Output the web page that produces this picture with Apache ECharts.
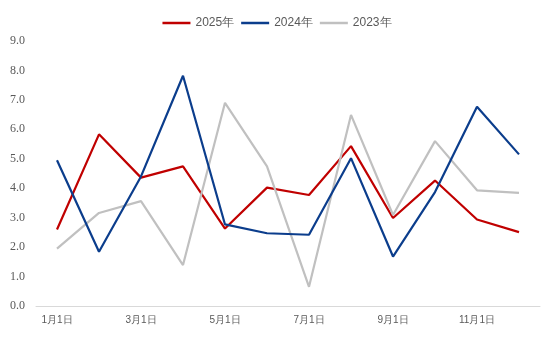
<!DOCTYPE html>
<html><head><meta charset="utf-8">
<script src="https://cdn.jsdelivr.net/npm/echarts@6/dist/echarts.min.js"></script>
<style>html,body{margin:0;padding:0;background:#fff}#c{width:554px;height:345px}</style>
</head><body><div id="c"></div>
<script>
var categories = ['1月1日','2月1日','3月1日','4月1日','5月1日','6月1日','7月1日','8月1日','9月1日','10月1日','11月1日','12月1日'];
var s2025 = [2.6, 5.83, 4.36, 4.74, 2.63, 4.02, 3.77, 5.43, 2.99, 4.26, 2.94, 2.51];
var s2024 = [4.95, 1.84, 4.4, 7.82, 2.77, 2.47, 2.42, 5.02, 1.68, 3.87, 6.77, 5.15];
var s2023 = [1.95, 3.16, 3.56, 1.39, 6.9, 4.74, 0.65, 6.49, 3.09, 5.6, 3.93, 3.84];
var names = ['2025年','2024年','2023年'];
var colors = ['#C00000','#0B3D8C','#C0C0C0'];
var yTicks = {min:0, max:9, interval:1};

var chart = echarts.init(document.getElementById('c'), null, {renderer:'canvas'});
var data = [s2025, s2024, s2023];
chart.setOption({
  animation:false,
  backgroundColor:'#fff',
  legend:{
    top:12, left:'center', itemWidth:28, itemHeight:10, itemGap:7,
    textStyle:{color:'#595959', fontSize:12, fontFamily:'Liberation Sans'},
    data: names.map(function(n,i){return {name:n, icon:'path://M0,0 L28,0 L28,2.5 L0,2.5 Z'};})
  },
  grid:{left:36, right:14, top:41, bottom:39},
  xAxis:{
    type:'category', data:categories, boundaryGap:true,
    axisLine:{lineStyle:{color:'#D9D9D9'}},
    axisTick:{interval:1, length:5, lineStyle:{color:'#D9D9D9'}},
    axisLabel:{interval:1, color:'#595959', fontSize:10, margin:9, fontFamily:'Liberation Sans'}
  },
  yAxis:{
    type:'value', min:yTicks.min, max:yTicks.max, interval:yTicks.interval,
    splitLine:{show:false}, axisLine:{show:false}, axisTick:{show:false},
    axisLabel:{color:'#595959', fontSize:12, margin:11, fontFamily:'Liberation Serif',
      formatter:function(v){return v.toFixed(1);}}
  },
  series: names.map(function(n,i){
    return {name:n, type:'line', data:data[i], symbol:'none', smooth:false,
      lineStyle:{color:colors[i], width:2.2}, itemStyle:{color:colors[i]}, z:[2,4,3][i]};
  })
});
</script></body></html>
